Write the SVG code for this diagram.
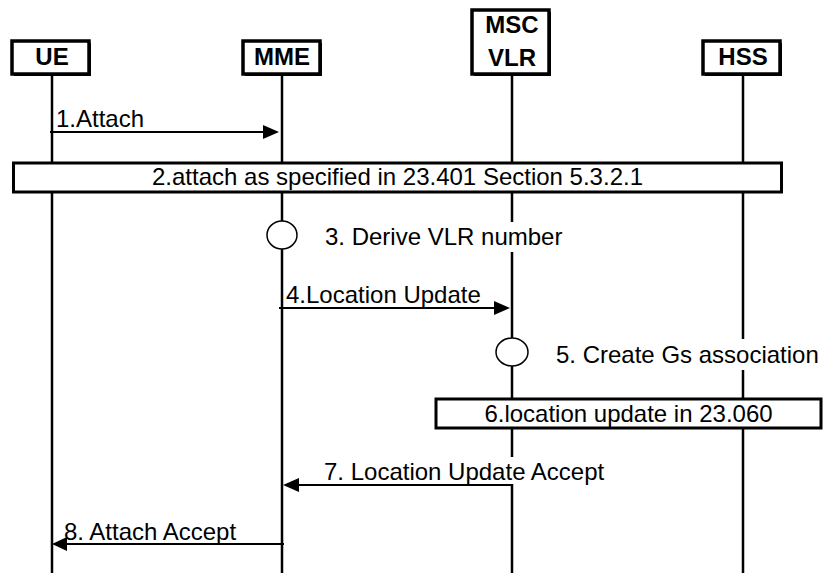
<svg xmlns="http://www.w3.org/2000/svg" width="824" height="573" viewBox="0 0 824 573">
<style>
.hdr{fill:#fff;stroke:#000;stroke-width:3.5}
.shd{fill:#000}
.ht{font-family:"Liberation Sans",Arial,sans-serif;font-size:24px;font-weight:bold;text-anchor:middle;fill:#000}
.t{font-family:"Liberation Sans",Arial,sans-serif;font-size:24px;fill:#000}
.life{stroke:#000;stroke-width:2.5}
.msg{stroke:#000;stroke-width:2;fill:none}
.box{fill:#fff;stroke:#000;stroke-width:3}
.act{fill:#fff;stroke:#000;stroke-width:1.5}
.bg{fill:#fff}
</style>
<rect width="824" height="573" fill="#fff"/>
<g id="lifelines">
<line class="life" x1="52" y1="76" x2="52" y2="573"/>
<line class="life" x1="282" y1="76" x2="282" y2="573"/>
<line class="life" x1="512" y1="76" x2="512" y2="573"/>
<line class="life" x1="743" y1="76" x2="743" y2="573"/>
</g>
<g id="UE">
<rect class="shd" x="14" y="43" width="77" height="33"/>
<rect class="hdr" x="12" y="41" width="77" height="33"/>
<text class="ht" x="52" y="65">UE</text>
</g>
<g id="MME">
<rect class="shd" x="245" y="43" width="77" height="33"/>
<rect class="hdr" x="243" y="41" width="77" height="33"/>
<text class="ht" x="282" y="65">MME</text>
</g>
<g id="MSCVLR">
<rect class="shd" x="474" y="12" width="77" height="64"/>
<rect class="hdr" x="472" y="10" width="77" height="64"/>
<text class="ht" x="512" y="33">MSC</text>
<text class="ht" x="512" y="66">VLR</text>
</g>
<g id="HSS">
<rect class="shd" x="705" y="43" width="77" height="33"/>
<rect class="hdr" x="703" y="41" width="77" height="33"/>
<text class="ht" x="743" y="65">HSS</text>
</g>
<g id="connectors">
<g id="m1">
<line class="msg" x1="50" y1="132" x2="265" y2="132"/>
<polygon points="263,125 279,132 263,139"/>
<text class="t" x="56" y="127">1.Attach</text>
</g>
<g id="m4">
<line class="msg" x1="279" y1="308" x2="496" y2="308"/>
<polygon points="494,301 510,308 494,315"/>
<text class="t" x="286" y="303">4.Location Update</text>
</g>
<g id="m7">
<rect class="bg" x="320" y="457" width="292" height="27"/>
<line class="msg" x1="512" y1="485" x2="297" y2="485"/>
<polygon points="299,478 283,485 299,492"/>
<text class="t" x="324" y="480">7. Location Update Accept</text>
</g>
<g id="m8">
<line class="msg" x1="284" y1="544" x2="65" y2="544"/>
<polygon points="67,537 52,544 67,551"/>
<text class="t" x="64" y="540">8. Attach Accept</text>
</g>
</g>
<g id="step2">
<rect class="box" x="13.5" y="163" width="768" height="29"/>
<text class="t" x="397.5" y="185" text-anchor="middle">2.attach as specified in 23.401 Section 5.3.2.1</text>
</g>
<g id="step3">
<ellipse class="act" cx="282" cy="235" rx="15" ry="14"/>
<rect class="bg" x="320" y="222" width="250" height="30"/>
<text class="t" x="325" y="245">3. Derive VLR number</text>
</g>
<g id="step5">
<ellipse class="act" cx="512" cy="352" rx="16" ry="14"/>
<rect class="bg" x="550" y="339" width="272" height="31"/>
<text class="t" x="556" y="363">5. Create Gs association</text>
</g>
<g id="step6">
<rect class="box" x="436" y="399" width="385" height="29"/>
<text class="t" x="628.5" y="421.5" text-anchor="middle">6.location update in 23.060</text>
</g>
</svg>
